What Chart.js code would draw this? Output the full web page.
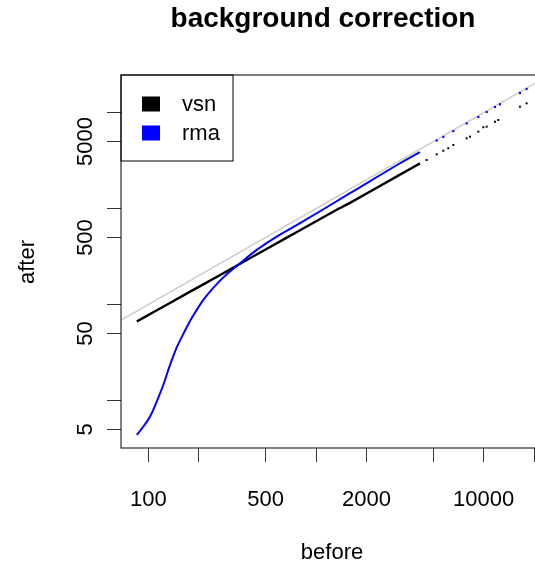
<!DOCTYPE html>
<html lang="en">
<head>
    <meta charset="UTF-8">
    <title>background correction</title>
    <script src="https://cdn.jsdelivr.net/npm/chart.js@4.4.0/dist/chart.umd.min.js"></script>
    <style>
        html, body {
            margin: 0;
            padding: 0;
            background: #fff;
            overflow: hidden;
        }
        #plot {
            display: block;
        }
    </style>
</head>
<body>
    <canvas id="plot" width="535" height="564"></canvas>

    <script>
        // axis ticks (log scales, R style: labels only on some ticks)
        const xTicks = [100, 200, 500, 1000, 2000, 5000, 10000, 20000];
        const xTickLabels = ['100', '', '500', '', '2000', '', '10000', ''];
        const yTicks = [5, 10, 50, 100, 500, 1000, 5000, 10000];
        const yTickLabels = ['5', '', '50', '', '500', '', '5000', ''];
        const xRange = [68.7, 20230];
        const yRange = [3.2, 24700];

        // vsn: dense part and sparse high-intensity tail
        const vsnBefore = [85.3, 107, 169, 268, 377, 532, 803, 1329, 1595, 3170, 4170];
        const vsnAfter = [66.5, 83.2, 130, 203, 284, 398, 596, 974, 1148, 2259, 2960];
        const vsnTailBefore = [4570, 5245, 5745, 6150, 6590, 7920, 8290, 9290, 9950, 10420, 11680, 12220, 16450, 18030];
        const vsnTailAfter = [3213, 3680, 4015, 4260, 4610, 5410, 5620, 6340, 7050, 7150, 8060, 8390, 11550, 12520];

        // rma: dense part and sparse tail
        const rmaBefore = [85.3, 93.4, 102.4, 112.2, 122.9, 134.7, 147.7, 161.7, 177.3, 194.4, 212.8, 233.3, 280.1, 352.2, 443.1, 583.1, 802.9, 1595, 3170, 4170];
        const rmaAfter = [4.39, 5.36, 6.81, 9.76, 14.6, 23.5, 35.8, 49.5, 67.6, 88.1, 111.9, 136.6, 192, 270, 371.4, 510.9, 704.7, 1447, 2971, 3890];
        const rmaTailBefore = [5245, 5745, 6590, 7920, 9290, 10420, 11680, 12500, 16450, 18030];
        const rmaTailAfter = [5130, 5585, 6440, 7730, 9020, 10160, 11460, 12230, 16030, 17660];

        // identity line after = before
        const refLine = [1, 100000];

        const seriesNames = ['vsn', 'rma'];
        const seriesColors = ['#000000', '#0000ff'];

        const font = 'Liberation Sans, Arial, sans-serif';

        function pairs(xs, ys) {
            return xs.map((v, i) => ({ x: v, y: ys[i] }));
        }

        // frame, y labels, axis titles, main title and legend
        const rPlot = {
            id: 'rPlot',
            afterDraw(chart) {
                const { ctx, chartArea: a, scales } = chart;
                ctx.save();

                ctx.strokeStyle = '#000';
                ctx.lineWidth = 1;
                ctx.strokeRect(a.left, a.top, a.right - a.left + 2, a.bottom - a.top);

                ctx.fillStyle = '#000';
                ctx.font = '22px ' + font;
                ctx.textAlign = 'center';
                ctx.textBaseline = 'alphabetic';
                yTicks.forEach((v, i) => {
                    if (!yTickLabels[i]) return;
                    ctx.save();
                    ctx.translate(92, scales.y.getPixelForValue(v));
                    ctx.rotate(-Math.PI / 2);
                    ctx.fillText(yTickLabels[i], 0, 0);
                    ctx.restore();
                });

                ctx.fillText('before', 332, 559);
                ctx.save();
                ctx.translate(34, 262);
                ctx.rotate(-Math.PI / 2);
                ctx.fillText('after', 0, 0);
                ctx.restore();

                ctx.font = 'bold 28px ' + font;
                ctx.fillText('background correction', 323, 27);

                // legend box
                ctx.strokeRect(a.left, a.top, 112, 86);
                ctx.font = '22px ' + font;
                ctx.textAlign = 'left';
                ctx.textBaseline = 'middle';
                seriesNames.forEach((name, i) => {
                    const cy = a.top + 29 + i * 29;
                    ctx.fillStyle = seriesColors[i];
                    ctx.fillRect(a.left + 21, cy - 7.5, 18, 15);
                    ctx.fillStyle = '#000';
                    ctx.fillText(name, a.left + 61, cy + 1);
                });

                ctx.restore();
            }
        };

        new Chart(document.getElementById('plot'), {
            type: 'scatter',
            data: {
                datasets: [
                    {
                        data: pairs(rmaBefore, rmaAfter),
                        showLine: true,
                        borderColor: seriesColors[1],
                        borderWidth: 2,
                        tension: 0.4,
                        pointRadius: 0
                    },
                    {
                        data: pairs(rmaTailBefore, rmaTailAfter),
                        backgroundColor: seriesColors[1],
                        borderWidth: 0,
                        pointStyle: 'rect',
                        pointRadius: 1.5
                    },
                    {
                        data: pairs(vsnBefore, vsnAfter),
                        showLine: true,
                        borderColor: seriesColors[0],
                        borderWidth: 2.4,
                        tension: 0.2,
                        pointRadius: 0
                    },
                    {
                        data: pairs(vsnTailBefore, vsnTailAfter),
                        backgroundColor: seriesColors[0],
                        borderWidth: 0,
                        pointStyle: 'rect',
                        pointRadius: 1.4
                    },
                    {
                        data: pairs(refLine, refLine),
                        showLine: true,
                        borderColor: '#cccccc',
                        borderWidth: 1.5,
                        pointRadius: 0
                    }
                ]
            },
            options: {
                responsive: false,
                animation: false,
                events: [],
                layout: { autoPadding: false, padding: { top: 75, left: 0, right: 0, bottom: 0 } },
                plugins: {
                    legend: { display: false },
                    tooltip: { enabled: false }
                },
                scales: {
                    x: {
                        type: 'logarithmic',
                        min: xRange[0],
                        max: xRange[1],
                        afterFit: s => { s.height = 116; s.paddingLeft = 0; s.paddingRight = 0; },
                        afterBuildTicks: s => { s.ticks = xTicks.map(v => ({ value: v })); },
                        grid: { drawOnChartArea: false, tickLength: 14, color: '#333' },
                        border: { display: false },
                        ticks: {
                            autoSkip: false,
                            maxRotation: 0,
                            minRotation: 0,
                            padding: 25,
                            color: '#000',
                            font: { size: 22, family: font },
                            callback: (v, i) => xTickLabels[i]
                        }
                    },
                    y: {
                        type: 'logarithmic',
                        min: yRange[0],
                        max: yRange[1],
                        afterFit: s => { s.width = 121; s.paddingTop = 0; s.paddingBottom = 0; },
                        afterBuildTicks: s => { s.ticks = yTicks.map(v => ({ value: v })); },
                        grid: { drawOnChartArea: false, tickLength: 14, color: '#333' },
                        border: { display: false },
                        ticks: { display: false }
                    }
                }
            },
            plugins: [rPlot]
        });
    </script>
</body>
</html>
